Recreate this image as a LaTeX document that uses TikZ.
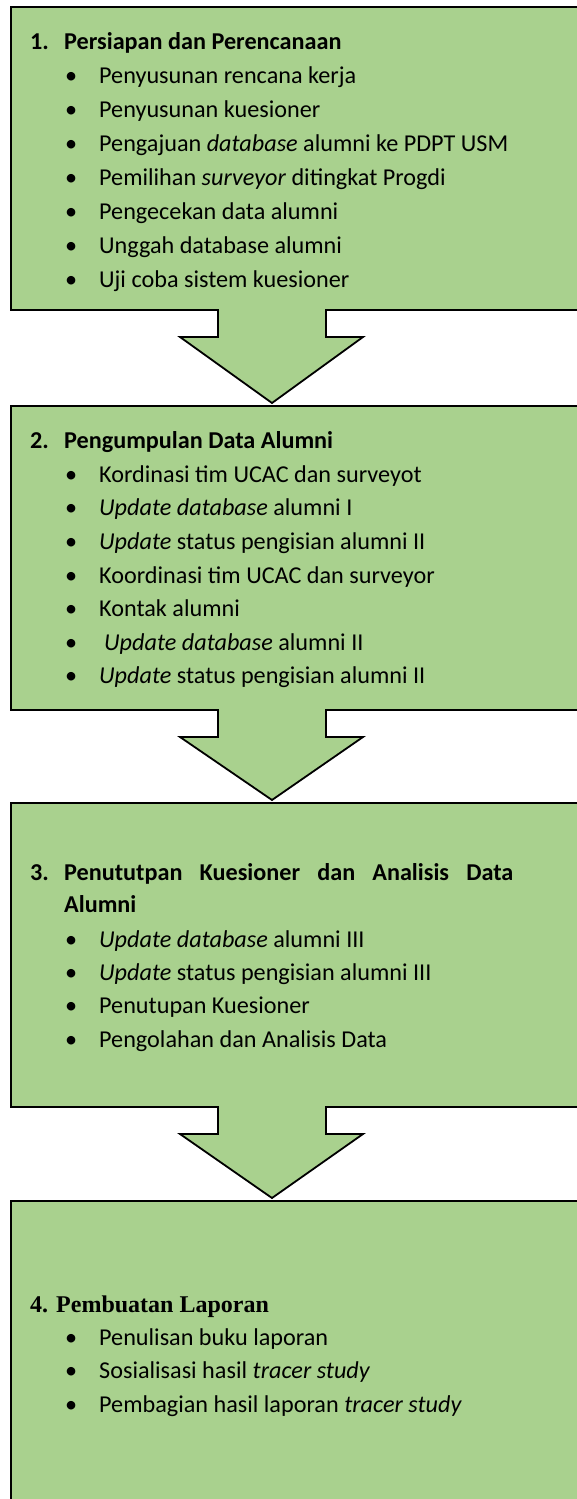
\documentclass[tikz,border=0pt]{standalone}
\usepackage{fontspec}
\setmainfont{Carlito}
\newfontfamily\reportfont{Liberation Serif}
\usetikzlibrary{calc}

\definecolor{stagegreen}{HTML}{A9D18E}

\tikzset{
  stagebox/.style={draw=black, line width=1.8pt, fill=stagegreen, anchor=north west,
    minimum width=600pt, inner sep=0pt, outer sep=0pt},
  flowarrow/.style={draw=black, line width=1.8pt, fill=stagegreen, line join=miter},
  stagetitle/.style={anchor=base west, inner sep=0pt, font=\fontsize{24.2}{34}\selectfont\bfseries},
  stageitem/.style={anchor=base west, inner sep=0pt, font=\fontsize{24.2}{34}\selectfont},
}

\begin{document}
\begin{tikzpicture}[x=1pt, y=-1pt]
    \clip (0,0) rectangle (577,1499);

    % Stage boxes
    \node[stagebox, minimum height=303pt] (stage1) at (11,7) {};
    \node[stagebox, minimum height=304pt] (stage2) at (11,406) {};
    \node[stagebox, minimum height=304pt] (stage3) at (11,803) {};
    \node[stagebox, minimum height=330pt] (stage4) at (11,1201) {};

    % Block arrows
    \foreach \a/\b in {stage1/stage2, stage2/stage3, stage3/stage4}
      \filldraw[flowarrow] ($(\a.south west)+(207,-1)$) -- ($(\a.south west)+(207,27)$)
        -- ($(\a.south west)+(169,27)$) -- ($(\b.north west)+(261,-3)$)
        -- ($(\a.south west)+(352,27)$) -- ($(\a.south west)+(315,27)$)
        -- ($(\a.south west)+(315,-1)$);

    % Stage 1
    \node[stagetitle] (title1) at (30,49) {\makebox[34pt][l]{1.}Persiapan dan Perencanaan};
    \foreach \y/\txt [count=\i] in {83/Penyusunan rencana kerja, 117/Penyusunan kuesioner,
        151/Pengajuan \textit{database} alumni ke PDPT USM,
        185/Pemilihan \textit{surveyor} ditingkat Progdi, 219/Pengecekan data alumni,
        253/Unggah database alumni, 287/Uji coba sistem kuesioner}
      \node[stageitem] (item1-\i) at (65,\y) {\makebox[34pt][l]{•}\txt};

    % Stage 2
    \node[stagetitle] (title2) at (30,448) {\makebox[34pt][l]{2.}Pengumpulan Data Alumni};
    \foreach \y/\txt [count=\i] in {482/Kordinasi tim UCAC dan surveyot,
        515/\textit{Update database} alumni I, 549/\textit{Update} status pengisian alumni II,
        583/Koordinasi tim UCAC dan surveyor, 616/Kontak alumni,
        650/\hspace{5pt}\textit{Update database} alumni II,
        683/\textit{Update} status pengisian alumni II}
      \node[stageitem] (item2-\i) at (65,\y) {\makebox[34pt][l]{•}\txt};

    % Stage 3
    \node[stagetitle] (title3) at (30,880)
      {\makebox[34pt][l]{3.}\makebox[449pt][s]{Penututpan Kuesioner dan Analisis Data}};
    \node[stagetitle] (title3b) at (64,912) {Alumni};
    \foreach \y/\txt [count=\i] in {947/\textit{Update database} alumni III,
        980/\textit{Update} status pengisian alumni III, 1013/Penutupan Kuesioner,
        1047/Pengolahan dan Analisis Data}
      \node[stageitem] (item3-\i) at (65,\y) {\makebox[34pt][l]{•}\txt};

    % Stage 4
    \node[stagetitle, font=\fontsize{24}{30}\selectfont\reportfont\bfseries] (title4) at (30,1312)
      {4. Pembuatan Laporan};
    \foreach \y/\txt [count=\i] in {1345/Penulisan buku laporan,
        1378/Sosialisasi hasil \textit{tracer study},
        1412/Pembagian hasil laporan \textit{tracer study}}
      \node[stageitem] (item4-\i) at (65,\y) {\makebox[34pt][l]{•}\txt};

\end{tikzpicture}
\end{document}
